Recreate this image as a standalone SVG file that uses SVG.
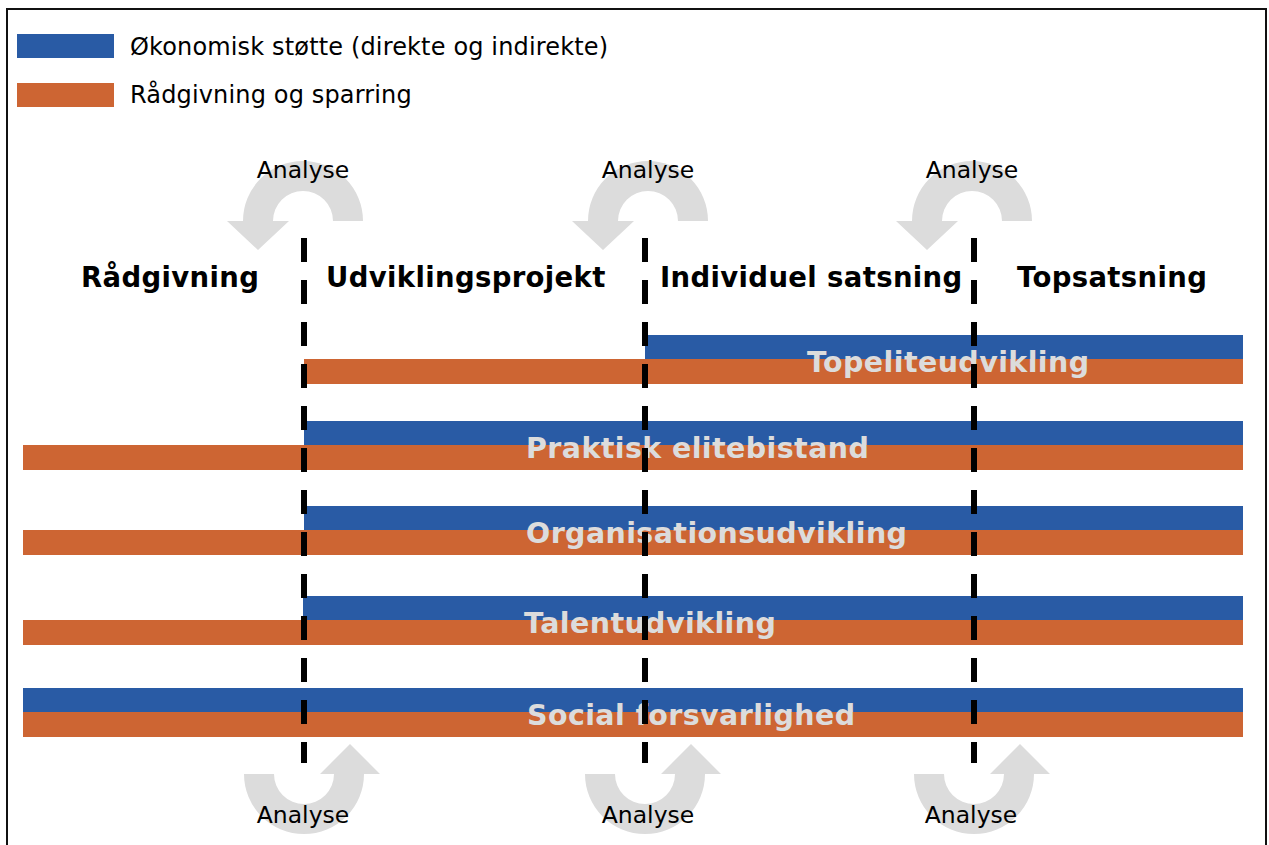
<svg xmlns="http://www.w3.org/2000/svg" width="1269" height="845" viewBox="0 0 1269 845">
<style>
.blue{fill:#295BA5}
.orange{fill:#CD6533}
.txt{font-family:"DejaVu Sans",Verdana,sans-serif;font-size:24px;letter-spacing:0.15px;fill:#000}
.an{font-family:"DejaVu Sans",Verdana,sans-serif;font-size:23.5px;fill:#000;text-anchor:middle}
.hd{font-family:"DejaVu Sans",Verdana,sans-serif;font-size:27.5px;font-weight:bold;letter-spacing:0.35px;fill:#000}
.lb{font-family:"DejaVu Sans",Verdana,sans-serif;font-size:28.5px;font-weight:bold;letter-spacing:0.4px;fill:#DCDCDC}
.arr{fill:#DCDCDC}
.dash{stroke:#000;stroke-width:6;stroke-dasharray:24 18;fill:none}
</style>
<rect x="0" y="0" width="1269" height="845" fill="#fff"/>
<rect x="7" y="9" width="1259" height="860" fill="none" stroke="#111" stroke-width="2"/>
<g id="legend">
<rect class="blue" x="17" y="34" width="97" height="24"/>
<text class="txt" x="130" y="55">Økonomisk støtte (direkte og indirekte)</text>
<rect class="orange" x="17" y="83" width="97" height="24"/>
<text class="txt" x="130" y="103">Rådgivning og sparring</text>
</g>
<g id="analyse-top">
<path class="arr" d="M363,221 A60,60 0 0 0 243,221 L227,221 L258,250 L289,221 L273,221 A30,30 0 0 1 333,221 Z"/>
<path class="arr" d="M708,221 A60,60 0 0 0 588,221 L572,221 L603,250 L634,221 L618,221 A30,30 0 0 1 678,221 Z"/>
<path class="arr" d="M1032,221 A60,60 0 0 0 912,221 L896,221 L927,250 L958,221 L942,221 A30,30 0 0 1 1002,221 Z"/>
<text class="an" x="303" y="178">Analyse</text>
<text class="an" x="648" y="178">Analyse</text>
<text class="an" x="972" y="178">Analyse</text>
</g>
<g id="analyse-bottom">
<path class="arr" d="M244,774 A60,60 0 0 0 364,774 L380,774 L350,744 L320,774 L334,774 A30,30 0 0 1 274,774 Z"/>
<path class="arr" d="M585,774 A60,60 0 0 0 705,774 L721,774 L691,744 L661,774 L675,774 A30,30 0 0 1 615,774 Z"/>
<path class="arr" d="M914,774 A60,60 0 0 0 1034,774 L1050,774 L1020,744 L990,774 L1004,774 A30,30 0 0 1 944,774 Z"/>
<text class="an" x="303" y="823">Analyse</text>
<text class="an" x="648" y="823">Analyse</text>
<text class="an" x="971" y="823">Analyse</text>
</g>
<g id="headings">
<text class="hd" x="81" y="287">Rådgivning</text>
<text class="hd" x="326" y="287">Udviklingsprojekt</text>
<text class="hd" x="660" y="287">Individuel satsning</text>
<text class="hd" x="1017" y="287">Topsatsning</text>
</g>
<g id="topeliteudvikling">
<rect class="blue" x="645" y="335" width="598" height="24"/>
<rect class="orange" x="304" y="359" width="939" height="25"/>
<text class="lb" x="807" y="372">Topeliteudvikling</text>
</g>
<g id="praktisk-elitebistand">
<rect class="blue" x="304" y="421" width="939" height="24"/>
<rect class="orange" x="23" y="445" width="1220" height="25"/>
<text class="lb" x="526" y="458">Praktisk elitebistand</text>
</g>
<g id="organisationsudvikling">
<rect class="blue" x="304" y="506" width="939" height="24"/>
<rect class="orange" x="23" y="530" width="1220" height="25"/>
<text class="lb" x="526" y="543">Organisationsudvikling</text>
</g>
<g id="talentudvikling">
<rect class="blue" x="303" y="596" width="940" height="24"/>
<rect class="orange" x="23" y="620" width="1220" height="25"/>
<text class="lb" x="524" y="633">Talentudvikling</text>
</g>
<g id="social-forsvarlighed">
<rect class="blue" x="23" y="688" width="1220" height="24"/>
<rect class="orange" x="23" y="712" width="1220" height="25"/>
<text class="lb" x="527" y="725">Social forsvarlighed</text>
</g>
<g id="connectors">
<line class="dash" x1="304" y1="238" x2="304" y2="763"/>
<line class="dash" x1="645" y1="238" x2="645" y2="763"/>
<line class="dash" x1="974" y1="238" x2="974" y2="763"/>
</g>
</svg>
